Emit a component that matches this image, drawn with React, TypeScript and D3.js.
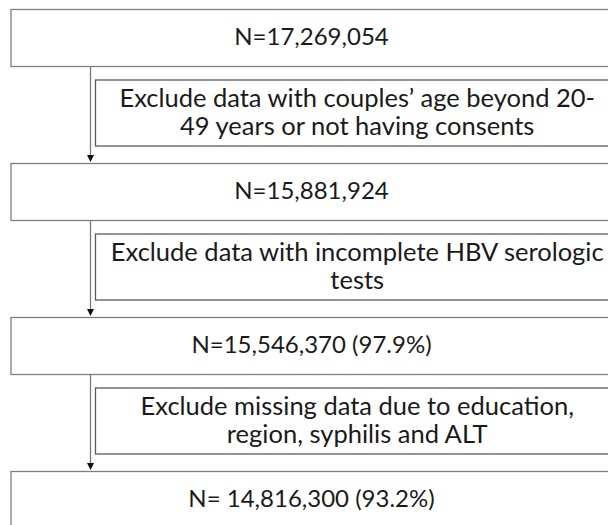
import React from "react";
import * as d3 from "d3";

// ---- data ----
const stepCounts: string[] = [
  "N=17,269,054",
  "N=15,881,924",
  "N=15,546,370 (97.9%)",
  "N= 14,816,300 (93.2%)",
];
const exclusionLines: string[][] = [
  ["Exclude data with couples\u2019 age beyond 20-", "49 years or not having consents"],
  ["Exclude data with incomplete HBV serologic", "tests"],
  ["Exclude missing data due to education,", "region, syphilis and ALT"],
];

const W = 608;
const H = 525;
const FONT = "Lato, 'Open Sans', sans-serif";

export default function App() {
  const y = d3.scaleLinear().domain([0, 3]).range([9.5, 471.5]);
  const mainX0 = 11;
  const mainX1 = 612;
  const mainH = 57;
  const exX0 = 95.5;
  const exX1 = 619;
  const exOff = 70.5;
  const exH = 66;
  const lineX = 90.5;
  const lineGap = 28.5;

  return (
    <svg
      width={W}
      height={H}
      style={{ position: "absolute", left: 0, top: 0, background: "#fff" }}
      fontFamily={FONT}
    >
      <rect x={0} y={0} width={W} height={H} fill="#fff" />
      {exclusionLines.map((_, i) => {
        const y0 = y(i) + mainH;
        const y1 = y(i + 1) - 1.5;
        return (
          <g key={"a" + i}>
            <line x1={lineX} x2={lineX} y1={y0} y2={y1 - 6} stroke="#7a7a7a" strokeWidth={1.3} />
            <path
              d={`M${lineX - 3.5},${y1 - 7} L${lineX + 3.5},${y1 - 7} L${lineX},${y1} Z`}
              fill="#111"
            />
          </g>
        );
      })}
      {stepCounts.map((t, i) => (
        <g key={"m" + i}>
          <rect
            x={mainX0}
            y={y(i)}
            width={mainX1 - mainX0}
            height={mainH}
            fill="#fff"
            stroke="#7f7f7f"
            strokeWidth={1.3}
          />
          <text
            x={(mainX0 + mainX1) / 2}
            y={y(i) + mainH / 2 - 1}
            dy="0.35em"
            textAnchor="middle"
            fontSize={24}
            fill="#1a1a1a"
          >
            {t}
          </text>
        </g>
      ))}
      {exclusionLines.map((lines, i) => {
        const top = y(i) + exOff;
        const cy = top + exH / 2;
        return (
          <g key={"e" + i}>
            <rect
              x={exX0}
              y={top}
              width={exX1 - exX0}
              height={exH}
              fill="#fff"
              stroke="#5a5a5a"
              strokeWidth={1.3}
            />
            {lines.map((l, j) => (
              <text
                key={j}
                x={(exX0 + exX1) / 2}
                y={cy + (j - (lines.length - 1) / 2) * lineGap - 1}
                dy="0.35em"
                textAnchor="middle"
                fontSize={25.5}
                fill="#1a1a1a"
              >
                {l}
              </text>
            ))}
          </g>
        );
      })}
    </svg>
  );
}
